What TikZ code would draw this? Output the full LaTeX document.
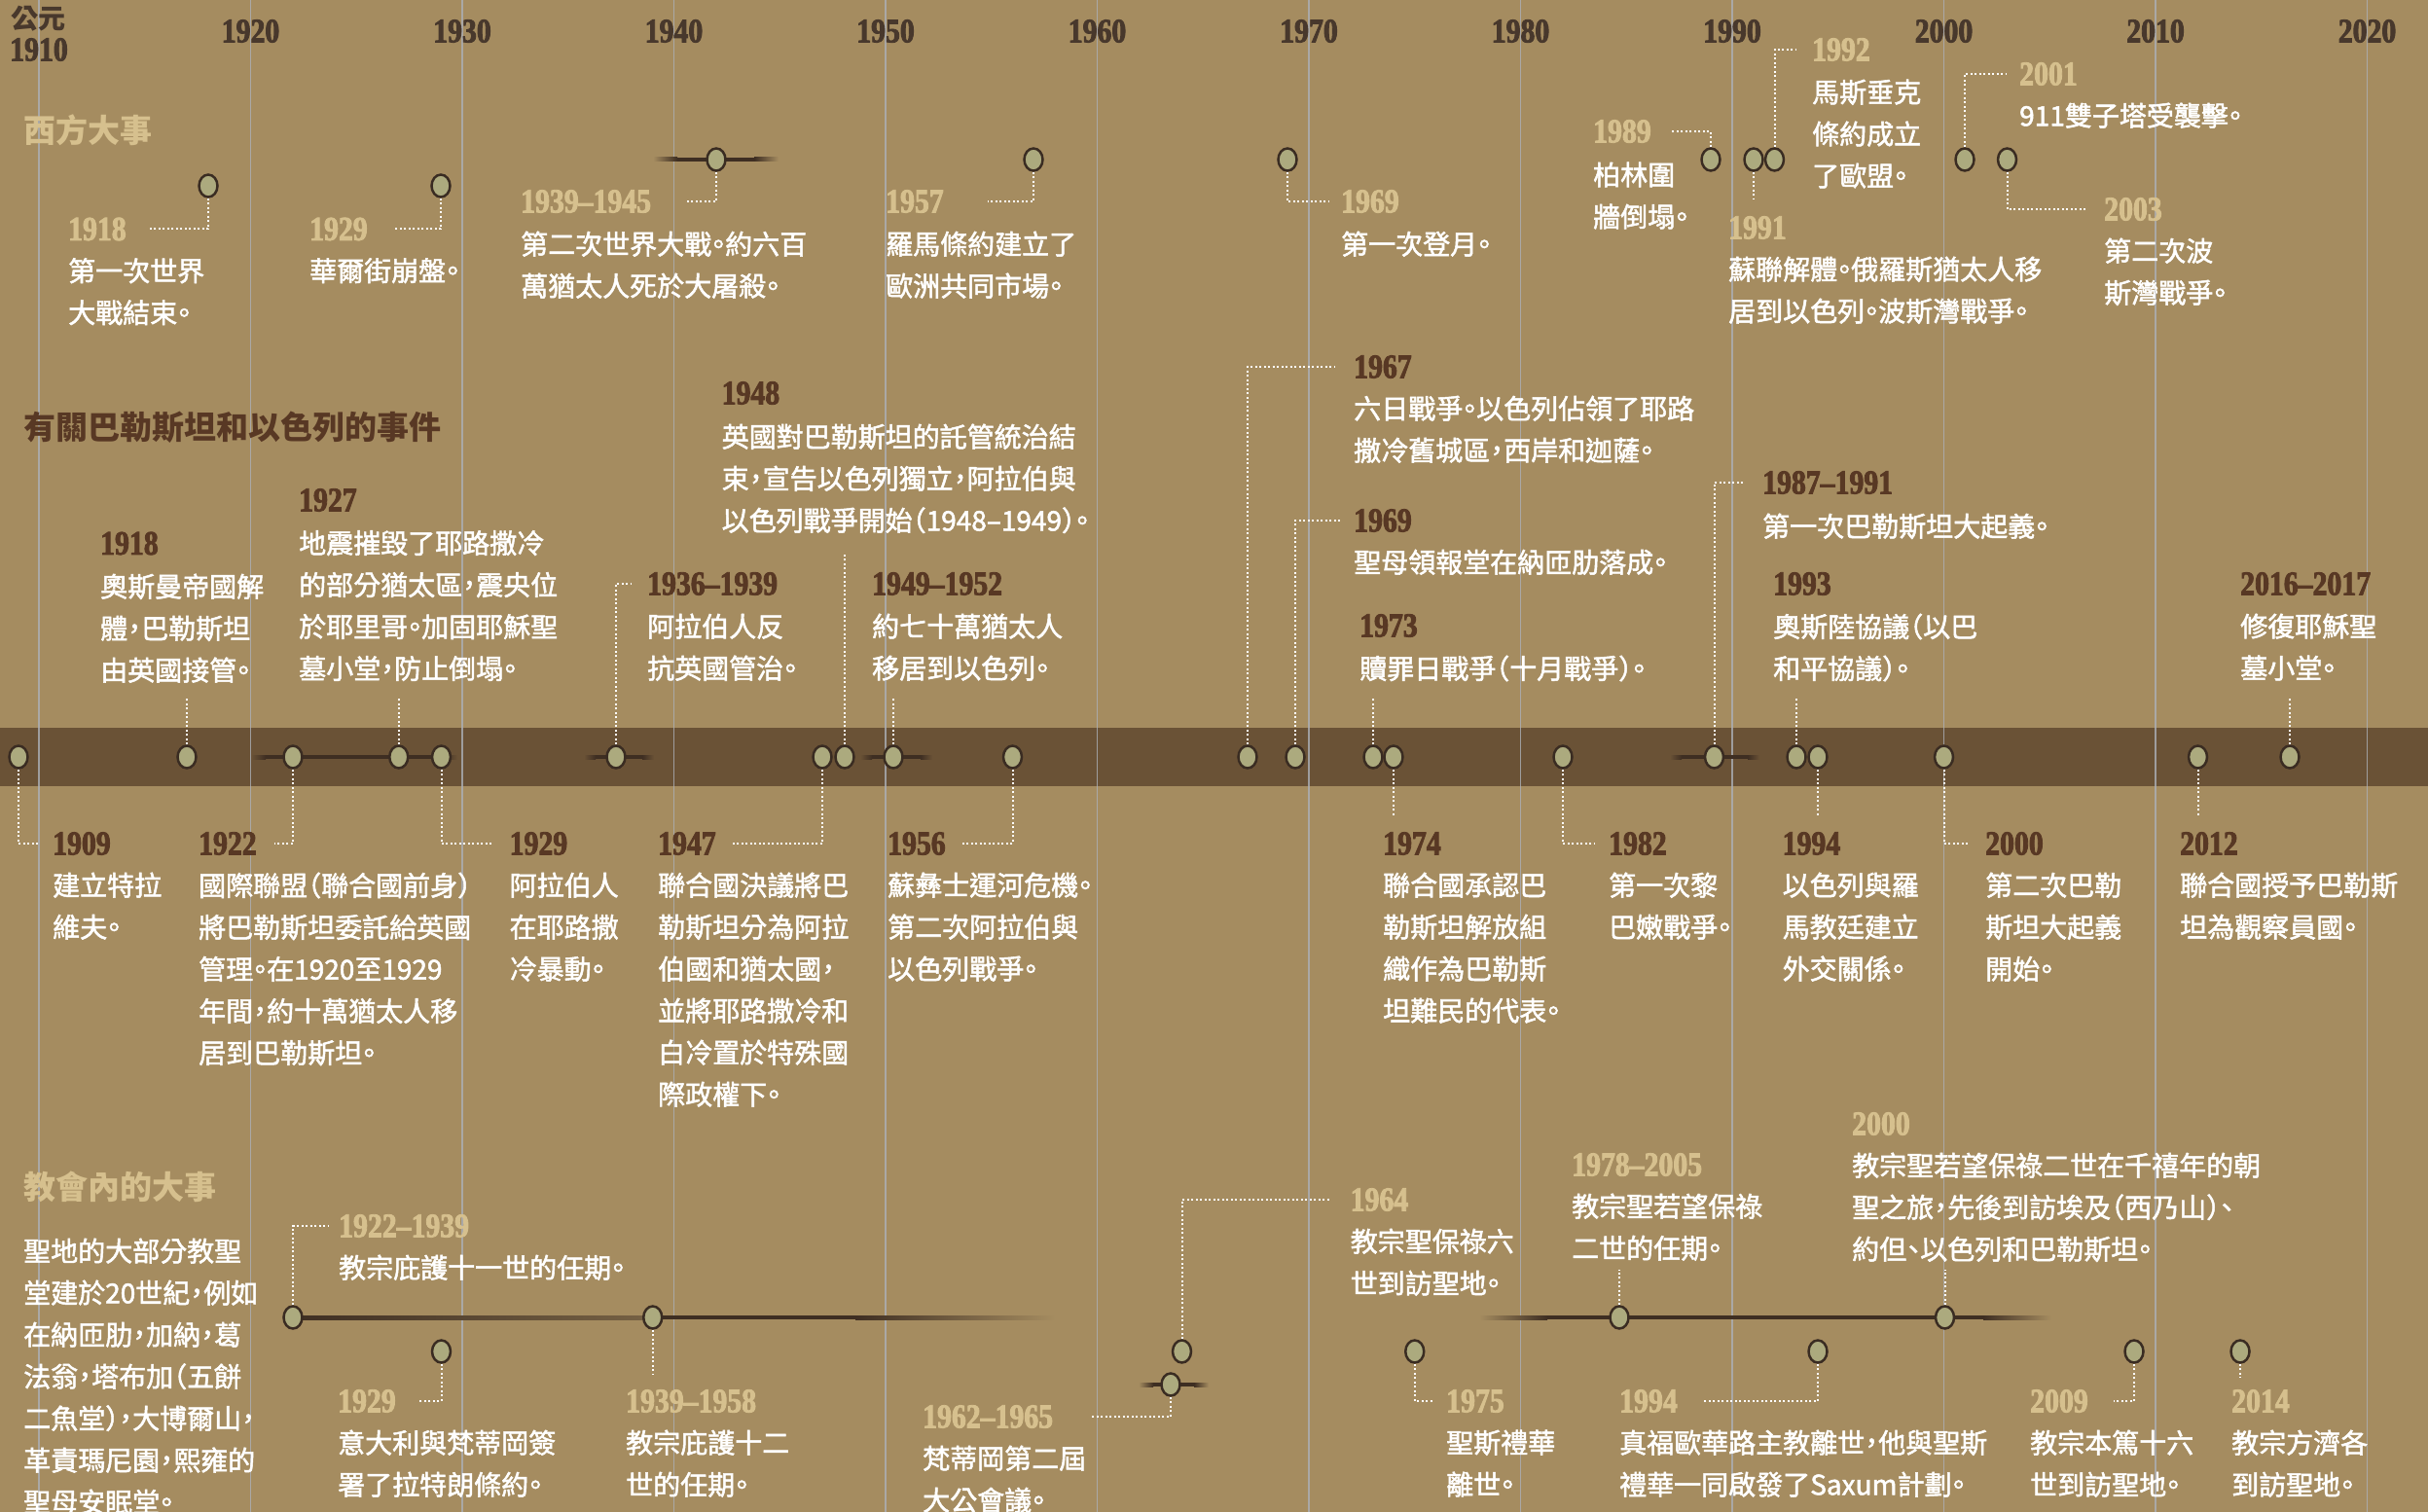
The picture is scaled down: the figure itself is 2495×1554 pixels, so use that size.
\documentclass[tikz,border=0pt]{standalone}
\usepackage{fontspec}
\usetikzlibrary{shapes.geometric}
\newfontfamily\cjk{Noto Sans CJK TC}[RawFeature=+halt]
\newfontfamily\cjkb{Noto Sans CJK TC}[RawFeature=+halt,FakeBold=1.8]
\newfontfamily\yrfont{Liberation Serif}[FakeStretch=0.85,FakeBold=2.4]
\definecolor{bg}{RGB}{165,140,96}
\definecolor{bandc}{RGB}{106,82,54}
\definecolor{gridc}{RGB}{172,176,184}
\definecolor{circf}{RGB}{172,170,126}
\definecolor{circb}{RGB}{58,44,34}
\definecolor{pale}{RGB}{214,192,142}
\definecolor{brn}{RGB}{88,56,36}
\definecolor{decc}{RGB}{72,56,44}
\definecolor{barc}{RGB}{62,46,34}
\newcommand\fbar[5]{%
  \shade[left color=#5,right color=barc] (#1,#3-2) rectangle (#1+#4,#3+2);
  \fill[barc] (#1+#4-0.5,#3-2) rectangle (#2-#4+0.5,#3+2);
  \shade[left color=barc,right color=#5] (#2-#4,#3-2) rectangle (#2,#3+2);}
\begin{document}
\begin{tikzpicture}[x=1pt,y=-1pt,
  ev/.style={ellipse,draw=circb,fill=circf,line width=2.5pt,minimum width=19pt,minimum height=23pt,inner sep=0pt},
  dl/.style={draw=white,line width=2pt,dash pattern=on 2pt off 2.5pt},
  gridln/.style={draw=gridc,line width=1.5pt},
  yrP/.style={font=\yrfont\bfseries\fontsize{35}{35}\selectfont,text=pale,anchor=west,inner sep=0pt},
  yrB/.style={font=\yrfont\bfseries\fontsize{35}{35}\selectfont,text=brn,anchor=west,inner sep=0pt},
  dec/.style={font=\yrfont\bfseries\fontsize{35}{35}\selectfont,text=decc,inner sep=0pt},
  txt/.style={font=\cjkb\fontsize{28}{43}\selectfont,text=white,align=left,anchor=north west,inner sep=0pt,yshift=13.5pt},
  hdr/.style={font=\cjk\bfseries\fontsize{33}{33}\selectfont,anchor=west,inner sep=0pt}]
\useasboundingbox (0,0) rectangle (2495,1554);
\fill[bg] (0,0) rectangle (2495,1554);
% band
\fill[bandc] (0,748) rectangle (2495,808);
% grid lines
\foreach \i in {0,...,11} \draw[gridln,opacity=0.8] ({40+\i*217.5},0) -- ({40+\i*217.5},1554);
% decade labels
\node[font=\cjk\bfseries\fontsize{28}{28}\selectfont,text=decc,inner sep=0pt] (gongyuan) at (40,19) {公元};
\node[dec] (d1910) at (40,51) {1910};
\foreach \y [count=\i from 1] in {1920,1930,...,2020} \node[dec] (d\y) at ({40+\i*217.5},32) {\y};
% headers
\node[hdr,text=pale] (hW) at (24,134) {西方大事};
\node[hdr,text=brn] (hM) at (24,439) {有關巴勒斯坦和以色列的事件};
\node[hdr,text=pale] (hC) at (24,1220) {教會內的大事};
% bars
\fbar{671}{800}{164}{25}{bg}
\fbar{258}{470}{778}{15}{bandc}
\fbar{600}{672}{778}{12}{bandc}
\fbar{884}{958}{778}{12}{bandc}
\fbar{1716}{1808}{778}{12}{bandc}
\shade[left color=barc,right color=barc!45!bg] (301,1352) rectangle (671,1356);
\fill[barc] (670,1352) rectangle (880,1356);
\shade[left color=barc,right color=bg] (879,1352) rectangle (1084,1356);
\fbar{1520}{2108}{1354}{70}{bg}
\fbar{1170}{1242}{1423}{15}{bg}

% ===== Western events =====
\node[ev] (w1918) at (214,191) {};
\node[yrP] (yw1918) at (70,235.5) {1918};
\node[txt] (tw1918) at (70,278.5) {第一次世界\\大戰結束。};
\coordinate (ew1918) at (154,235.5);
\draw[dl] (w1918.south) |- (ew1918);

\node[ev] (w1929) at (453,191) {};
\node[yrP] (yw1929) at (318,235.5) {1929};
\node[txt] (tw1929) at (318,278.5) {華爾街崩盤。};
\coordinate (ew1929) at (406,235.5);
\draw[dl] (w1929.south) |- (ew1929);

\node[ev] (w1942) at (736,164) {};
\node[yrP] (yw1942) at (535,207) {1939–1945};
\node[txt] (tw1942) at (535,251) {第二次世界大戰。約六百\\萬猶太人死於大屠殺。};
\coordinate (ew1942) at (705,207);
\draw[dl] (w1942.south) |- (ew1942);

\node[ev] (w1957) at (1062,164) {};
\node[yrP] (yw1957) at (910,207) {1957};
\node[txt] (tw1957) at (910,251) {羅馬條約建立了\\歐洲共同市場。};
\coordinate (ew1957) at (1015,207);
\draw[dl] (w1957.south) |- (ew1957);

\node[ev] (w1969) at (1323,164) {};
\node[yrP] (yw1969) at (1378,207) {1969};
\node[txt] (tw1969) at (1378,251) {第一次登月。};
\coordinate (ew1969) at (1365,207);
\draw[dl] (w1969.south) |- (ew1969);

\node[ev] (w1989) at (1758,164) {};
\node[yrP] (yw1989) at (1637,135) {1989};
\node[txt] (tw1989) at (1637,180) {柏林圍\\牆倒塌。};
\coordinate (ew1989) at (1718,135);
\draw[dl] (w1989.north) |- (ew1989);

\node[ev] (w1991) at (1802,164) {};
\node[yrP] (yw1991) at (1776,234) {1991};
\node[txt] (tw1991) at (1776,277) {蘇聯解體。俄羅斯猶太人移\\居到以色列。波斯灣戰爭。};
\coordinate (ew1991) at (1802,204);
\draw[dl] (w1991.south) -- (ew1991);

\node[ev] (w1992) at (1823.5,164) {};
\node[yrP] (yw1992) at (1862,51) {1992};
\node[txt] (tw1992) at (1862,95) {馬斯垂克\\條約成立\\了歐盟。};
\coordinate (ew1992) at (1846,51);
\draw[dl] (w1992.north) |- (ew1992);

\node[ev] (w2001) at (2019,164) {};
\node[yrP] (yw2001) at (2075,76) {2001};
\node[txt] (tw2001) at (2075,119) {911雙子塔受襲擊。};
\coordinate (ew2001) at (2062,76);
\draw[dl] (w2001.north) |- (ew2001);

\node[ev] (w2003) at (2062.5,164) {};
\node[yrP] (yw2003) at (2162,215) {2003};
\node[txt] (tw2003) at (2162,258) {第二次波\\斯灣戰爭。};
\coordinate (ew2003) at (2145,215);
\draw[dl] (w2003.south) |- (ew2003);

% ===== Middle: above band =====
\node[ev] (m1917) at (192,778) {};
\node[yrB] (ym1917) at (103,558.5) {1918};
\node[txt] (tm1917) at (103,603) {奧斯曼帝國解\\體，巴勒斯坦\\由英國接管。};
\coordinate (em1917) at (192,716);
\draw[dl] (m1917.north) -- (em1917);

\node[ev] (m1927) at (409.75,778) {};
\node[yrB] (ym1927) at (307,514) {1927};
\node[txt] (tm1927) at (307,558.5) {地震摧毀了耶路撒冷\\的部分猶太區，震央位\\於耶里哥。加固耶穌聖\\墓小堂，防止倒塌。};
\coordinate (em1927) at (409.75,716);
\draw[dl] (m1927.north) -- (em1927);

\node[ev] (m1936) at (633,778) {};
\node[yrB] (ym1936) at (665,600) {1936–1939};
\node[txt] (tm1936) at (665,644) {阿拉伯人反\\抗英國管治。};
\coordinate (em1936) at (649,600);
\draw[dl] (m1936.north) |- (em1936);

\node[ev] (m1948) at (868,778) {};
\node[yrB] (ym1948) at (741.5,404) {1948};
\node[txt] (tm1948) at (741.5,449) {英國對巴勒斯坦的託管統治結\\束，宣告以色列獨立，阿拉伯與\\以色列戰爭開始（1948–1949）。};
\coordinate (em1948) at (868,570);
\draw[dl] (m1948.north) -- (em1948);

\node[ev] (m1949) at (918,778) {};
\node[yrB] (ym1949) at (896,600) {1949–1952};
\node[txt] (tm1949) at (896,644) {約七十萬猶太人\\移居到以色列。};
\coordinate (em1949) at (918,716);
\draw[dl] (m1949.north) -- (em1949);

\node[ev] (m1967) at (1282,778) {};
\node[yrB] (ym1967) at (1391,377) {1967};
\node[txt] (tm1967) at (1391,420) {六日戰爭。以色列佔領了耶路\\撒冷舊城區，西岸和迦薩。};
\coordinate (em1967) at (1372,377);
\draw[dl] (m1967.north) |- (em1967);

\node[ev] (m1969) at (1331,778) {};
\node[yrB] (ym1969) at (1391,535) {1969};
\node[txt] (tm1969) at (1391,578) {聖母領報堂在納匝肋落成。};
\coordinate (em1969) at (1378,535);
\draw[dl] (m1969.north) |- (em1969);

\node[ev] (m1973) at (1411,778) {};
\node[yrB] (ym1973) at (1397,643) {1973};
\node[txt] (tm1973) at (1397,687) {贖罪日戰爭（十月戰爭）。};
\coordinate (em1973) at (1411,716);
\draw[dl] (m1973.north) -- (em1973);

\node[ev] (m1987) at (1761.5,778) {};
\node[yrB] (ym1987) at (1811,496) {1987–1991};
\node[txt] (tm1987) at (1811,541) {第一次巴勒斯坦大起義。};
\coordinate (em1987) at (1792,496);
\draw[dl] (m1987.north) |- (em1987);

\node[ev] (m1993) at (1846,778) {};
\node[yrB] (ym1993) at (1822,600) {1993};
\node[txt] (tm1993) at (1822,644) {奧斯陸協議（以巴\\和平協議）。};
\coordinate (em1993) at (1846,716);
\draw[dl] (m1993.north) -- (em1993);

\node[ev] (m2016) at (2353,778) {};
\node[yrB] (ym2016) at (2302,600) {2016–2017};
\node[txt] (tm2016) at (2302,644) {修復耶穌聖\\墓小堂。};
\coordinate (em2016) at (2353,716);
\draw[dl] (m2016.north) -- (em2016);

% ===== Middle: below band =====
\node[ev] (m1909) at (19,778) {};
\node[yrB] (ym1909) at (54,867) {1909};
\node[txt] (tm1909) at (54,910) {建立特拉\\維夫。};
\coordinate (em1909) at (40,867);
\draw[dl] (m1909.south) |- (em1909);

\node[ev] (m1922) at (301,778) {};
\node[yrB] (ym1922) at (204,867) {1922};
\node[txt] (tm1922) at (204,910) {國際聯盟（聯合國前身）\\將巴勒斯坦委託給英國\\管理。在1920至1929\\年間，約十萬猶太人移\\居到巴勒斯坦。};
\coordinate (em1922) at (282,867);
\draw[dl] (m1922.south) |- (em1922);

\node[ev] (m1929) at (453.5,778) {};
\node[yrB] (ym1929) at (523.5,867) {1929};
\node[txt] (tm1929) at (523.5,910) {阿拉伯人\\在耶路撒\\冷暴動。};
\coordinate (em1929) at (506,867);
\draw[dl] (m1929.south) |- (em1929);

\node[ev] (m1947) at (845,778) {};
\node[yrB] (ym1947) at (676,867) {1947};
\node[txt] (tm1947) at (676,910) {聯合國決議將巴\\勒斯坦分為阿拉\\伯國和猶太國，\\並將耶路撒冷和\\白冷置於特殊國\\際政權下。};
\coordinate (em1947) at (751,867);
\draw[dl] (m1947.south) |- (em1947);

\node[ev] (m1956) at (1040.5,778) {};
\node[yrB] (ym1956) at (912,867) {1956};
\node[txt] (tm1956) at (912,910) {蘇彝士運河危機。\\第二次阿拉伯與\\以色列戰爭。};
\coordinate (em1956) at (987,867);
\draw[dl] (m1956.south) |- (em1956);

\node[ev] (m1974) at (1432,778) {};
\node[yrB] (ym1974) at (1421,867) {1974};
\node[txt] (tm1974) at (1421,910) {聯合國承認巴\\勒斯坦解放組\\織作為巴勒斯\\坦難民的代表。};
\coordinate (em1974) at (1432,840);
\draw[dl] (m1974.south) -- (em1974);

\node[ev] (m1982) at (1606,778) {};
\node[yrB] (ym1982) at (1653,867) {1982};
\node[txt] (tm1982) at (1653,910) {第一次黎\\巴嫩戰爭。};
\coordinate (em1982) at (1639,867);
\draw[dl] (m1982.south) |- (em1982);

\node[ev] (m1994) at (1868,778) {};
\node[yrB] (ym1994) at (1831.5,867) {1994};
\node[txt] (tm1994) at (1831.5,910) {以色列與羅\\馬教廷建立\\外交關係。};
\coordinate (em1994) at (1868,840);
\draw[dl] (m1994.south) -- (em1994);

\node[ev] (m2000) at (1997.5,778) {};
\node[yrB] (ym2000) at (2040,867) {2000};
\node[txt] (tm2000) at (2040,910) {第二次巴勒\\斯坦大起義\\開始。};
\coordinate (em2000) at (2024,867);
\draw[dl] (m2000.south) |- (em2000);

\node[ev] (m2012) at (2258.5,778) {};
\node[yrB] (ym2012) at (2240,867) {2012};
\node[txt] (tm2012) at (2240,910) {聯合國授予巴勒斯\\坦為觀察員國。};
\coordinate (em2012) at (2258.5,840);
\draw[dl] (m2012.south) -- (em2012);

% ===== Church =====
\node[txt] (tcIntro) at (24,1286) {聖地的大部分教聖\\堂建於20世紀，例如\\在納匝肋，加納，葛\\法翁，塔布加（五餅\\二魚堂），大博爾山，\\革責瑪尼園，熙雍的\\聖母安眠堂。};

\node[ev] (c1922) at (301,1354) {};
\node[yrP] (yc1922) at (348,1260) {1922–1939};
\node[txt] (tc1922) at (348,1303) {教宗庇護十一世的任期。};
\coordinate (ec1922) at (337,1260);
\draw[dl] (c1922.north) |- (ec1922);

\node[ev] (c1939) at (670.75,1354) {};
\node[yrP] (yc1939) at (643,1440) {1939–1958};
\node[txt] (tc1939) at (643,1483) {教宗庇護十二\\世的任期。};
\coordinate (ec1939) at (670.75,1413);
\draw[dl] (c1939.south) -- (ec1939);

\node[ev] (c1929) at (453.5,1389) {};
\node[yrP] (yc1929) at (347,1440) {1929};
\node[txt] (tc1929) at (347,1483) {意大利與梵蒂岡簽\\署了拉特朗條約。};
\coordinate (ec1929) at (430,1440);
\draw[dl] (c1929.south) |- (ec1929);

\node[ev] (c1962) at (1203,1423) {};
\node[yrP] (yc1962) at (948,1456) {1962–1965};
\node[txt] (tc1962) at (948,1499) {梵蒂岡第二屆\\大公會議。};
\coordinate (ec1962) at (1122,1456);
\draw[dl] (c1962.south) |- (ec1962);

\node[ev] (c1964) at (1214.5,1389) {};
\node[yrP] (yc1964) at (1387.5,1233) {1964};
\node[txt] (tc1964) at (1387.5,1276) {教宗聖保祿六\\世到訪聖地。};
\coordinate (ec1964) at (1368,1233);
\draw[dl] (c1964.north) |- (ec1964);

\node[ev] (c1978) at (1664,1354) {};
\node[yrP] (yc1978) at (1615,1197) {1978–2005};
\node[txt] (tc1978) at (1615,1240) {教宗聖若望保祿\\二世的任期。};
\coordinate (ec1978) at (1664,1305);
\draw[dl] (c1978.north) -- (ec1978);

\node[ev] (c2000) at (1998.5,1354) {};
\node[yrP] (yc2000) at (1903,1155) {2000};
\node[txt] (tc2000) at (1903,1198) {教宗聖若望保祿二世在千禧年的朝\\聖之旅，先後到訪埃及（西乃山）、\\約但、以色列和巴勒斯坦。};
\coordinate (ec2000) at (1998.5,1305);
\draw[dl] (c2000.north) -- (ec2000);

\node[ev] (c1975) at (1453.75,1389) {};
\node[yrP] (yc1975) at (1486,1440) {1975};
\node[txt] (tc1975) at (1486,1483) {聖斯禮華\\離世。};
\coordinate (ec1975) at (1472,1440);
\draw[dl] (c1975.south) |- (ec1975);

\node[ev] (c1994) at (1868,1389) {};
\node[yrP] (yc1994) at (1664,1440) {1994};
\node[txt] (tc1994) at (1664,1483) {真福歐華路主教離世，他與聖斯\\禮華一同啟發了Saxum計劃。};
\coordinate (ec1994) at (1750,1440);
\draw[dl] (c1994.south) |- (ec1994);

\node[ev] (c2009) at (2193,1389) {};
\node[yrP] (yc2009) at (2086,1440) {2009};
\node[txt] (tc2009) at (2086,1483) {教宗本篤十六\\世到訪聖地。};
\coordinate (ec2009) at (2172,1440);
\draw[dl] (c2009.south) |- (ec2009);

\node[ev] (c2014) at (2302,1389) {};
\node[yrP] (yc2014) at (2293,1440) {2014};
\node[txt] (tc2014) at (2293,1483) {教宗方濟各\\到訪聖地。};
\coordinate (ec2014) at (2302,1416);
\draw[dl] (c2014.south) -- (ec2014);
\end{tikzpicture}
\end{document}
